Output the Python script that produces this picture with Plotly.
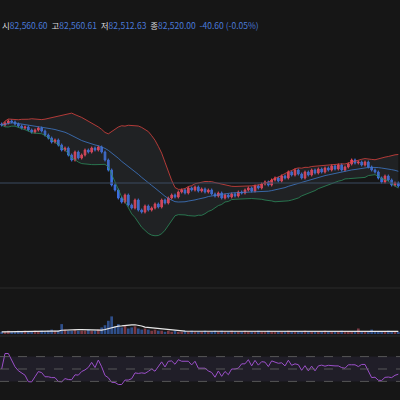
import plotly.graph_objects as go
import pandas as pd
import numpy as np

closes = [82575,82577,82579,82578,82576,82574,82572,82573,82570,82568,82570,82572,
          82569,82565,82562,82558,82560,82555,82550,82552,82545,82540,82548,82542,
          82545,82550,82548,82552,82550,82553,82548,82540,82530,82515,82510,82502,
          82498,82505,82495,82492,82500,82490,82488,82494,82490,82492,82496,82493,
          82500,82497,82502,82505,82503,82508,82510,82507,82512,82510,82513,82509,
          82511,82508,82510,82506,82504,82507,82502,82505,82503,82506,82504,82508,
          82507,82510,82512,82509,82514,82512,82516,82518,82515,82520,82522,82519,
          82524,82522,82528,82525,82530,82526,82522,82528,82525,82530,82527,82531,
          82528,82532,82530,82534,82531,82535,82530,82533,82536,82540,82537,82538,
          82535,82538,82533,82530,82528,82522,82518,82524,82520,82515,82517,82514]
volumes = [2,2,3,2,2,3,2,3,2,2,3,2,
           3,2,3,4,3,3,9,4,3,3,4,3,
           3,3,4,3,3,4,6,8,12,16,7,9,
           6,8,5,6,7,5,4,5,4,3,4,3,
           3,2,3,2,3,2,2,3,2,3,2,2,
           2,3,2,2,3,2,3,2,2,3,2,2,
           2,3,2,2,2,3,2,2,3,2,2,2,
           2,2,3,2,2,2,2,3,2,2,2,2,
           2,3,2,2,2,2,3,2,2,2,2,5,
           2,2,2,4,2,2,2,2,3,2,2,2]

n = len(closes)
x = list(range(n))
opens = [closes[0] + 1] + closes[:-1]
highs = [max(o, c) + 1.5 for o, c in zip(opens, closes)]
lows = [min(o, c) - 1.5 for o, c in zip(opens, closes)]

s = pd.Series(closes, dtype=float)
mid = s.rolling(20, min_periods=1).mean()
sd = s.rolling(20, min_periods=1).std().fillna(0)
up = mid + 2 * sd
lo = mid - 2 * sd

d = s.diff().fillna(0)
g = d.clip(lower=0).rolling(6, min_periods=1).mean()
l = (-d.clip(upper=0)).rolling(6, min_periods=1).mean()
rsi = (100 * g / (g + l).replace(0, np.nan)).fillna(50)
rsi = 50 + (rsi - 50) * 0.5
vma = pd.Series(volumes, dtype=float).rolling(10, min_periods=1).mean()

fig = go.Figure()
fig.add_trace(go.Scatter(x=x, y=up, mode="lines", line=dict(color="#d9433f", width=0.8), yaxis="y"))
fig.add_trace(go.Scatter(x=x, y=lo, mode="lines", line=dict(color="#2c8a5a", width=0.8),
                         fill="tonexty", fillcolor="rgba(80,90,100,0.18)", yaxis="y"))
fig.add_trace(go.Scatter(x=x, y=mid, mode="lines", line=dict(color="#3f78c8", width=0.8), yaxis="y"))
fig.add_trace(go.Candlestick(x=x, open=opens, high=highs, low=lows, close=closes,
                             increasing=dict(line=dict(color="#f0455a", width=1), fillcolor="#f0455a"),
                             decreasing=dict(line=dict(color="#3d6fe0", width=1), fillcolor="#3d6fe0"),
                             whiskerwidth=0, yaxis="y"))
vcol = ["#7a3a44" if c >= o else "#2f4f8a" for o, c in zip(opens, closes)]
fig.add_trace(go.Bar(x=x, y=volumes, marker=dict(color=vcol, line=dict(width=0)), yaxis="y2"))
fig.add_trace(go.Scatter(x=x, y=vma, mode="lines", line=dict(color="#e8e8e8", width=1.2), yaxis="y2"))
fig.add_trace(go.Scatter(x=x, y=rsi, mode="lines", line=dict(color="#9b4fc9", width=1), yaxis="y3"))

shapes = [
    dict(type="line", xref="paper", yref="y", x0=0, x1=1, y0=82517, y1=82517, line=dict(color="#3a4a60", width=1)),
    dict(type="rect", xref="paper", yref="y3", x0=0, x1=1, y0=30, y1=70, fillcolor="rgba(110,90,170,0.12)", line=dict(width=0), layer="below"),
]
for v in (30, 50, 70):
    shapes.append(dict(type="line", xref="paper", yref="y3", x0=0, x1=1, y0=v, y1=v,
                       line=dict(color="#666", width=0.8, dash="dash")))
for yp in (0.28, 0.16):
    shapes.append(dict(type="line", xref="paper", yref="paper", x0=0, x1=1, y0=yp, y1=yp,
                       line=dict(color="#2a2a2a", width=1)))

txt = ("<span style='color:#ddd'>시</span><span style='color:#4a7ad8'>82,560.60</span>  "
       "<span style='color:#ddd'>고</span><span style='color:#4a7ad8'>82,560.61</span>  "
       "<span style='color:#ddd'>저</span><span style='color:#4a7ad8'>82,512.63</span>  "
       "<span style='color:#ddd'>종</span><span style='color:#4a7ad8'>82,520.00</span>  "
       "<span style='color:#4a7ad8'>-40.60 (-0.05%)</span>")

ax = dict(visible=False, showgrid=False, zeroline=False, fixedrange=True)
fig.update_layout(
    width=400, height=400, margin=dict(l=0, r=0, t=0, b=0),
    paper_bgcolor="#161616", plot_bgcolor="#161616", showlegend=False,
    xaxis=dict(ax, range=[-0.5, n - 0.5], rangeslider=dict(visible=False)),
    yaxis=dict(ax, domain=[0.2875, 0.9], range=[82415, 82660]),
    yaxis2=dict(ax, domain=[0.165, 0.275], range=[0, 40]),
    yaxis3=dict(ax, domain=[0.0, 0.155], range=[0, 100]),
    shapes=shapes,
    annotations=[dict(xref="paper", yref="paper", x=0.0, y=0.938, xanchor="left", yanchor="middle",
                      text=txt, showarrow=False, font=dict(family="Noto Sans CJK KR", size=8.5))],
)
fig.write_html("out.html", config={"displayModeBar": False},
               post_script="document.body.style.margin='0';document.body.style.background='#161616';")
